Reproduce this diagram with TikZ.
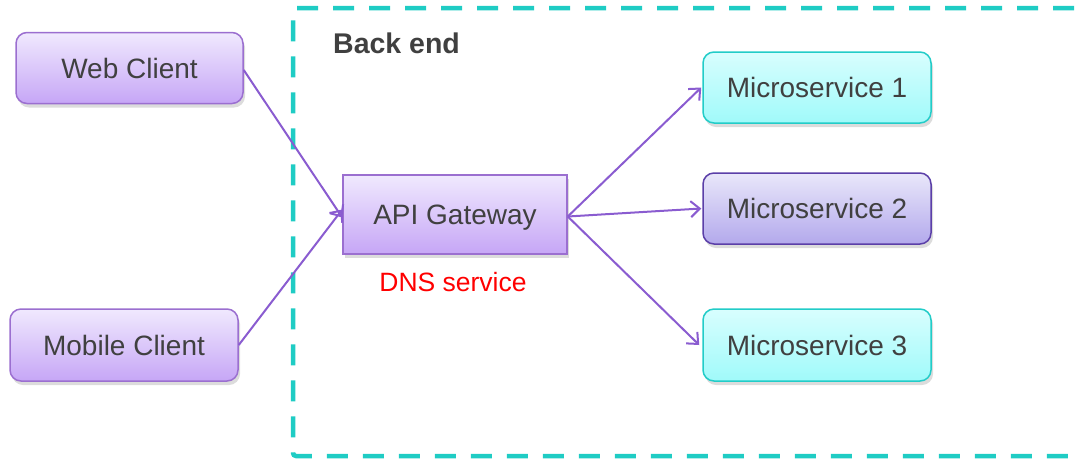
\documentclass[tikz,border=0pt]{standalone}
\usepackage{fontspec}
\setmainfont{Liberation Sans}
\usetikzlibrary{arrows.meta,shadows,positioning}
\definecolor{txt}{HTML}{404040}
\definecolor{cltop}{HTML}{F0E9FE}
\definecolor{clbot}{HTML}{C6A6F6}
\definecolor{clborder}{HTML}{9B6FD0}
\definecolor{cytop}{HTML}{D8FEFE}
\definecolor{cybot}{HTML}{A0FAFA}
\definecolor{cyborder}{HTML}{22CCC8}
\definecolor{lvtop}{HTML}{E9E7FA}
\definecolor{lvbot}{HTML}{B3A9EC}
\definecolor{lvborder}{HTML}{5B3FA8}
\definecolor{dashcol}{HTML}{1FCCC4}
\definecolor{arrowcol}{HTML}{8A5CD0}
\tikzset{
  boxbase/.style={draw, line width=1.5pt, minimum width=227pt, minimum height=71pt,
    inner sep=0pt, text=txt, font=\fontsize{28}{33}\selectfont,
    text height=20pt, text depth=0pt,
    drop shadow={opacity=0.28, shadow xshift=2pt, shadow yshift=-4pt}},
  clientbox/.style={boxbase, rounded corners=11pt, draw=clborder, top color=cltop, bottom color=clbot},
  gatebox/.style={boxbase, draw=clborder, top color=cltop, bottom color=clbot, minimum width=224pt, minimum height=79pt},
  cyanbox/.style={boxbase, rounded corners=11pt, draw=cyborder, top color=cytop, bottom color=cybot, minimum width=228pt},
  lavbox/.style={boxbase, rounded corners=11pt, draw=lvborder, top color=lvtop, bottom color=lvbot, minimum width=228pt},
  conn/.style={draw=arrowcol, line width=2pt, -{Straight Barb[length=9pt,width=16pt,line width=2pt]}},
}
\begin{document}
\begin{tikzpicture}[x=1pt,y=-1pt]
\useasboundingbox (0,0) rectangle (1078,459);
\begin{scope}
\clip (0,0) rectangle (1078,459);
\draw[dashcol, line width=4.5pt, dash pattern=on 21pt off 15pt, rounded corners=3pt] (1110,8) -- (293,8) -- (293,456) -- (1110,456);
\end{scope}
\node[anchor=west, text=txt, font=\bfseries\fontsize{28.5}{33}\selectfont, inner sep=0pt, text height=20.5pt, text depth=0pt] (backend) at (333,43) {Back end};

\node[clientbox] (web) at (129.5,68) {Web Client};
\node[clientbox, minimum width=228pt, minimum height=72pt] (mobile) at (124,345) {Mobile Client};
\node[gatebox] (gw) at (455,214.5) {API Gateway};
\node[text=red, font=\fontsize{26.5}{31}\selectfont, inner sep=0pt, text height=19pt, text depth=0pt] (dns) at (453,282) {DNS service};

\node[cyanbox] (ms1) at (817,87.5) {Microservice 1};
\node[lavbox] (ms2) at (817,208.5) {Microservice 2};
\node[cyanbox, minimum height=72pt] (ms3) at (817,345) {Microservice 3};

\draw[conn] (web.east) ++(0,2) coordinate (w1) (w1) -- ([yshift=-3pt]gw.west);
\draw[conn] (mobile.east) -- ([yshift=5pt]gw.west);
\draw[conn] ([yshift=-2pt]gw.east) -- ([xshift=-1pt]ms1.west);
\draw[conn] ([yshift=-2pt]gw.east) -- ([xshift=-1pt]ms2.west);
\draw[conn] ([yshift=-2pt]gw.east) -- ([xshift=-3pt]ms3.west);
\end{tikzpicture}
\end{document}
